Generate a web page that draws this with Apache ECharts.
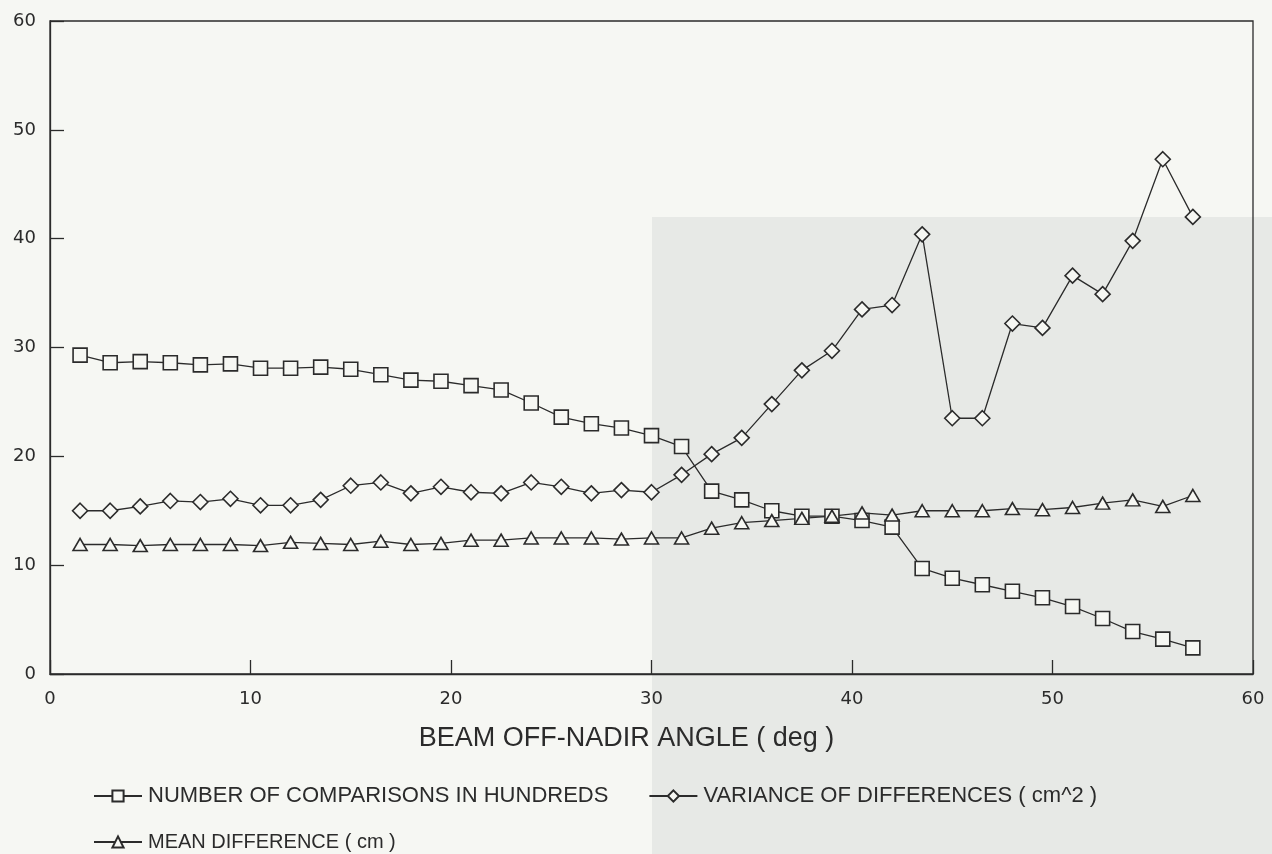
<!DOCTYPE html>
<html lang="en">
<head>
    <meta charset="UTF-8">
    <title>Beam off-nadir angle</title>
    <script type="text/javascript" src="https://cdn.jsdelivr.net/npm/echarts@6/dist/echarts.min.js"></script>
    <style>
        html, body { margin: 0; padding: 0; background: #f6f7f3; }
        #chart { width: 1272px; height: 854px; }
    </style>
</head>
<body>
<div id="chart"></div>
<script type="text/javascript">
    // beam off-nadir angle (deg)
    var angles = [1.5, 3, 4.5, 6, 7.5, 9, 10.5, 12, 13.5, 15, 16.5, 18, 19.5,
        21, 22.5, 24, 25.5, 27, 28.5, 30, 31.5, 33, 34.5, 36, 37.5, 39,
        40.5, 42, 43.5, 45, 46.5, 48, 49.5, 51, 52.5, 54, 55.5, 57];
    // number of comparisons in hundreds
    var comparisons = [29.3, 28.6, 28.7, 28.6, 28.4, 28.5, 28.1, 28.1, 28.2, 28.0, 27.5, 27.0, 26.9,
        26.5, 26.1, 24.9, 23.6, 23.0, 22.6, 21.9, 20.9, 16.8, 16.0, 15.0, 14.5, 14.5,
        14.1, 13.5, 9.7, 8.8, 8.2, 7.6, 7.0, 6.2, 5.1, 3.9, 3.2, 2.4];
    // variance of differences (cm^2)
    var variance = [15.0, 15.0, 15.4, 15.9, 15.8, 16.1, 15.5, 15.5, 16.0, 17.3, 17.6, 16.6, 17.2,
        16.7, 16.6, 17.6, 17.2, 16.6, 16.9, 16.7, 18.3, 20.2, 21.7, 24.8, 27.9, 29.7,
        33.5, 33.9, 40.4, 23.5, 23.5, 32.2, 31.8, 36.6, 34.9, 39.8, 47.3, 42.0];
    // mean difference (cm)
    var meanDiff = [11.9, 11.9, 11.8, 11.9, 11.9, 11.9, 11.8, 12.1, 12.0, 11.9, 12.2, 11.9, 12.0,
        12.3, 12.3, 12.5, 12.5, 12.5, 12.4, 12.5, 12.5, 13.4, 13.9, 14.1, 14.3, 14.5,
        14.8, 14.6, 15.0, 15.0, 15.0, 15.2, 15.1, 15.3, 15.7, 16.0, 15.4, 16.4];

    var ink = '#2b2b2b';
    var paper = '#f6f7f3';
    var sans = '"Liberation Sans", Arial, sans-serif';
    var round = '"DejaVu Sans", sans-serif';

    function pairs(vals) {
        return angles.map(function (a, i) { return [a, vals[i]]; });
    }

    function line(name, vals, symbol, size) {
        return {
            name: name,
            type: 'line',
            data: pairs(vals),
            symbol: symbol,
            symbolSize: size,
            lineStyle: { color: ink, width: 1.3 },
            itemStyle: { color: paper, borderColor: ink, borderWidth: 1.6 },
            emphasis: { disabled: true },
            z: 3
        };
    }

    var option = {
        backgroundColor: paper,
        animation: false,
        graphic: [{
            type: 'rect',
            left: 652, top: 217,
            shape: { width: 620, height: 637 },
            style: { fill: '#e7e9e6' },
            z: -10
        }],
        grid: {
            left: 50, right: 19, top: 21, bottom: 180,
            show: true, borderColor: ink, borderWidth: 1.3
        },
        xAxis: {
            type: 'value', min: 0, max: 60, interval: 10,
            name: 'BEAM OFF-NADIR ANGLE ( deg )',
            nameLocation: 'middle', nameGap: 51,
            nameTextStyle: { color: ink, fontSize: 27, fontFamily: sans, padding: [0, 50, 0, 0] },
            axisLine: { lineStyle: { color: ink, width: 1.3 } },
            axisTick: { inside: true, length: 14, lineStyle: { color: ink, width: 1.3 } },
            axisLabel: { color: ink, fontSize: 18, margin: 16, fontFamily: round },
            splitLine: { show: false }
        },
        yAxis: {
            type: 'value', min: 0, max: 60, interval: 10,
            axisLine: { show: true, lineStyle: { color: ink, width: 1.3 } },
            axisTick: { show: true, inside: true, length: 14, lineStyle: { color: ink, width: 1.3 } },
            axisLabel: { color: ink, fontSize: 18, margin: 14, fontFamily: round },
            splitLine: { show: false }
        },
        legend: [{
            left: 88, top: 780,
            itemWidth: 48, itemHeight: 14, itemGap: 40,
            data: [
                'NUMBER OF COMPARISONS IN HUNDREDS',
                'VARIANCE OF DIFFERENCES ( cm^2 )'
            ],
            textStyle: { color: ink, fontSize: 22, fontFamily: sans, padding: [0, 0, 0, 1] }
        }, {
            left: 88, top: 827,
            itemWidth: 48, itemHeight: 14,
            data: ['MEAN DIFFERENCE ( cm )'],
            textStyle: { color: ink, fontSize: 20, fontFamily: sans, padding: [0, 0, 0, 1] }
        }],
        series: [
            line('NUMBER OF COMPARISONS IN HUNDREDS', comparisons, 'rect', 14),
            line('VARIANCE OF DIFFERENCES ( cm^2 )', variance, 'diamond', [15, 15]),
            line('MEAN DIFFERENCE ( cm )', meanDiff, 'triangle', [14, 12])
        ]
    };

    var myChart = echarts.init(document.getElementById('chart'));
    myChart.setOption(option);
</script>
</body>
</html>
